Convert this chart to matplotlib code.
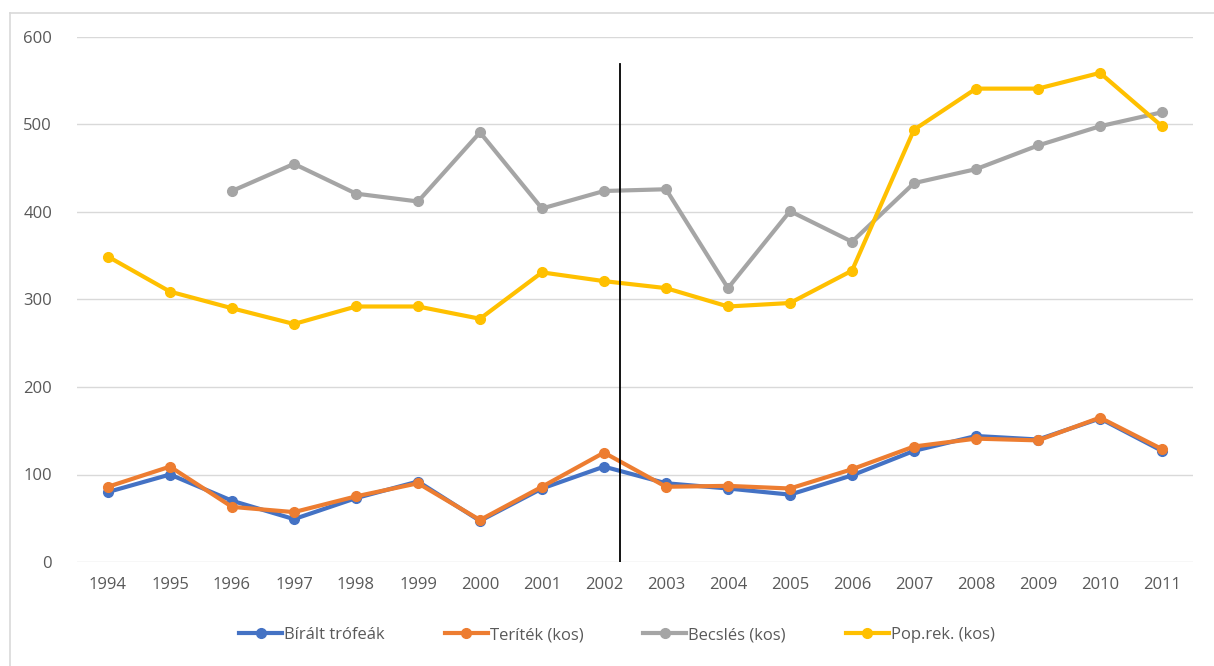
import matplotlib
matplotlib.use('Agg')
import matplotlib.pyplot as plt
from matplotlib.lines import Line2D
import numpy as np

evek = [str(e) for e in range(1994, 2012)]

biralt = [80, 100, 70, 49, 73, 92, 47, 84, 109, 90, 84, 77, 99, 127, 144, 140, 164, 127]
teritek = [86, 109, 63, 57, 75, 90, 48, 86, 125, 86, 87, 84, 106, 132, 141, 139, 165, 129]
becsles = [np.nan, np.nan, 424, 455, 421, 412, 491, 404, 424, 426, 313, 401, 366, 433, 449, 476, 498, 514]
poprek = [349, 309, 290, 272, 292, 292, 278, 331, 321, 313, 292, 296, 333, 494, 541, 541, 559, 498]

sorozatok = [
    ('Bírált trófeák', biralt, '#4472C4'),
    ('Teríték (kos)', teritek, '#ED7D31'),
    ('Becslés (kos)', becsles, '#A5A5A5'),
    ('Pop.rek. (kos)', poprek, '#FFC000'),
]

# függőleges jelölővonal (kategóriaindeksben) és a teteje
jelolo_x = 8.26
jelolo_ylapaa = 569

plt.rcParams.update({'font.family': ['Open Sans', 'DejaVu Sans'], 'font.size': 12})

fig = plt.figure(figsize=(12.14, 6.66), dpi=100)
ax = fig.add_axes([77/1214, (666-562)/666, (1193-77)/1214, (562-37)/666])

x = np.arange(len(evek))
for nimi, arvot, vari in sorozatok:
    ax.plot(x, arvot, '-o', color=vari, lw=3, markersize=7, label=nimi, zorder=3)

ax.plot([jelolo_x, jelolo_x], [0, jelolo_ylapaa], color='black', lw=1.3, zorder=4)

ax.set_xlim(-0.5, len(evek) - 0.5)
ax.set_ylim(0, 600)
ax.set_yticks(range(0, 601, 100))
ax.set_xticks(x)
ax.set_xticklabels(evek)
ax.grid(axis='y', color='#D9D9D9', lw=1)
ax.set_axisbelow(True)
for s in ax.spines.values():
    s.set_visible(False)
ax.tick_params(length=0, colors='#595959', labelsize=12)
ax.tick_params(axis='y', pad=18)
ax.tick_params(axis='x', pad=11)

ax.legend(loc='center', bbox_to_anchor=(0.508, (666-635)/666), bbox_transform=fig.transFigure,
          ncol=4, frameon=False, fontsize=12, labelcolor='#595959',
          handlelength=2.6, columnspacing=3.6, handletextpad=0.1)

# kehys
fig.add_artist(Line2D([10/1214, 10/1214], [0, 1 - 13/666], color='#D9D9D9', lw=1.2))
fig.add_artist(Line2D([10/1214, 1], [1 - 13/666, 1 - 13/666], color='#D9D9D9', lw=1.2))

fig.savefig('out.png', dpi=100)
